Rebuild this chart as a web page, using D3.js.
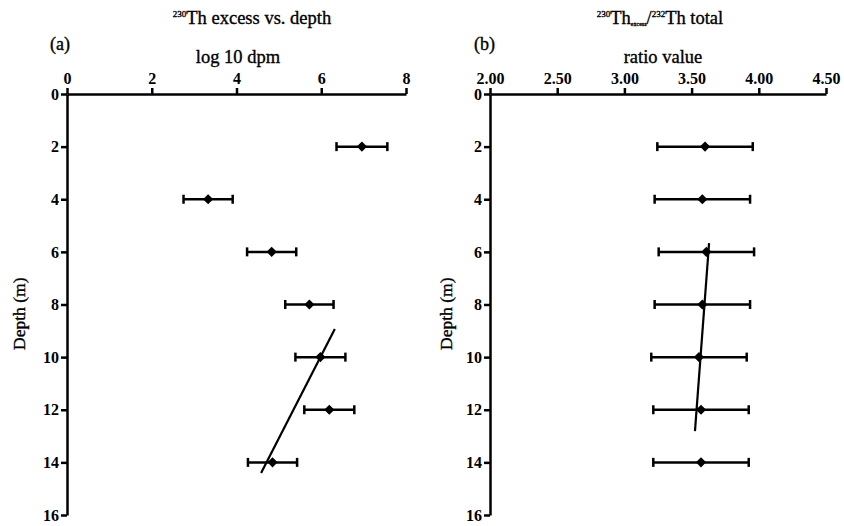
<!DOCTYPE html>
<html>
<head>
<meta charset="utf-8">
<script src="https://cdn.jsdelivr.net/npm/d3@7"></script>
<style>
  body { margin: 0; background: #fff; }
  svg { display: block; }
  text { font-family: "Liberation Serif", "Times New Roman", serif; fill: #000; }
  .lbl { stroke: #000; stroke-width: 0.35; }
  .tick text { font-size: 16px; font-weight: bold; }
  .axis path, .axis line { stroke: #000; stroke-width: 2.5; }
</style>
</head>
<body>
<svg id="chart" width="844" height="526"></svg>
<script>
// depths sampled (m)
const depths = [2, 4, 6, 8, 10, 12, 14];

// panel (a): 230Th excess, log10 dpm
const thExcess = [6.96, 3.33, 4.83, 5.72, 5.98, 6.19, 4.85];
const thExcessErr = [0.6, 0.58, 0.58, 0.57, 0.59, 0.59, 0.58];
const fitAValue = [6.32, 4.58];
const fitADepth = [8.93, 14.4];

// panel (b): 230Th excess / 232Th total ratio
const ratio = [3.60, 3.58, 3.61, 3.58, 3.555, 3.57, 3.57];
const ratioErr = [0.355, 0.355, 0.355, 0.355, 0.355, 0.355, 0.355];
const fitBValue = [3.63, 3.525];
const fitBDepth = [5.67, 12.81];

const ticksA = [0, 2, 4, 6, 8];
const ticksB = [2.0, 2.5, 3.0, 3.5, 4.0, 4.5];
const depthTicks = [0, 2, 4, 6, 8, 10, 12, 14, 16];

const svg = d3.select("#chart");
const y = d3.scaleLinear().domain([0, 16]).range([94, 515]);

function panel(opts) {
  const { x, ticks, fmt, values, errs, fitV, fitD, ylabelX } = opts;
  const g = svg.append("g");

  g.append("g").attr("class", "axis")
    .attr("transform", `translate(0,${y(0)})`)
    .call(d3.axisTop(x).tickValues(ticks).tickFormat(fmt).tickSize(6).tickSizeOuter(0).tickPadding(4));

  g.append("g").attr("class", "axis")
    .attr("transform", `translate(${x.range()[0]},0)`)
    .call(d3.axisLeft(y).tickValues(depthTicks).tickSize(6).tickSizeOuter(0).tickPadding(2));

  g.selectAll(".axis .tick text").attr("fill", "#000");

  g.append("text").attr("class", "lbl")
    .attr("transform", `translate(${ylabelX},${y(8.35)}) rotate(-90)`)
    .attr("text-anchor", "middle")
    .attr("font-size", 17.5)
    .text("Depth (m)");

  const pts = depths.map((d, i) => ({ d, v: values[i], e: errs[i] }));

  // error bars
  const eb = g.append("g").attr("stroke", "#000").attr("stroke-width", 2.5);
  eb.selectAll(".bar").data(pts).join("line")
    .attr("x1", p => x(p.v - p.e)).attr("x2", p => x(p.v + p.e))
    .attr("y1", p => y(p.d)).attr("y2", p => y(p.d));
  eb.selectAll(".capl").data(pts).join("line")
    .attr("x1", p => x(p.v - p.e)).attr("x2", p => x(p.v - p.e))
    .attr("y1", p => y(p.d) - 4.5).attr("y2", p => y(p.d) + 4.5);
  eb.selectAll(".capr").data(pts).join("line")
    .attr("x1", p => x(p.v + p.e)).attr("x2", p => x(p.v + p.e))
    .attr("y1", p => y(p.d) - 4.5).attr("y2", p => y(p.d) + 4.5);

  // fitted line
  g.append("line")
    .attr("x1", x(fitV[0])).attr("y1", y(fitD[0]))
    .attr("x2", x(fitV[1])).attr("y2", y(fitD[1]))
    .attr("stroke", "#000").attr("stroke-width", 2.2);

  // diamonds
  g.selectAll(".pt").data(pts).join("path")
    .attr("transform", p => `translate(${x(p.v)},${y(p.d)}) rotate(45)`)
    .attr("d", d3.symbol(d3.symbolSquare, 52)())
    .attr("fill", "#000");

  return g;
}

const xA = d3.scaleLinear().domain([0, 8]).range([67, 406]);
const xB = d3.scaleLinear().domain([2, 4.5]).range([490, 826]);

const gA = panel({ x: xA, ticks: ticksA, fmt: d3.format("d"), values: thExcess, errs: thExcessErr,
  fitV: fitAValue, fitD: fitADepth, ylabelX: 25 });
const gB = panel({ x: xB, ticks: ticksB, fmt: d3.format(".2f"), values: ratio, errs: ratioErr,
  fitV: fitBValue, fitD: fitBDepth, ylabelX: 452 });

// titles panel (a)
const tA = gA.append("text").attr("class", "lbl").attr("x", 252).attr("y", 24).attr("text-anchor", "middle").attr("font-size", 18.5);
tA.append("tspan").attr("font-size", 9).attr("dy", -7).text("230");
tA.append("tspan").attr("dy", 7).text("Th excess vs. depth");
gA.append("text").attr("class", "lbl").attr("x", 50).attr("y", 50).attr("font-size", 18).text("(a)");
gA.append("text").attr("class", "lbl").attr("x", 238).attr("y", 63).attr("text-anchor", "middle").attr("font-size", 18.5).text("log 10 dpm");

// titles panel (b)
const tB = gB.append("text").attr("class", "lbl").attr("x", 660).attr("y", 24).attr("text-anchor", "middle").attr("font-size", 18.5);
tB.append("tspan").attr("font-size", 9).attr("dy", -7).text("230");
tB.append("tspan").attr("dy", 7).text("Th");
tB.append("tspan").attr("font-size", 6).attr("dy", 2).text("excess");
tB.append("tspan").attr("dy", -2).text("/");
tB.append("tspan").attr("font-size", 9).attr("dy", -7).text("232");
tB.append("tspan").attr("dy", 7).text("Th total");
gB.append("text").attr("class", "lbl").attr("x", 474).attr("y", 50).attr("font-size", 18).text("(b)");
gB.append("text").attr("class", "lbl").attr("x", 663).attr("y", 63).attr("text-anchor", "middle").attr("font-size", 18.5).text("ratio value");
</script>
</body>
</html>
